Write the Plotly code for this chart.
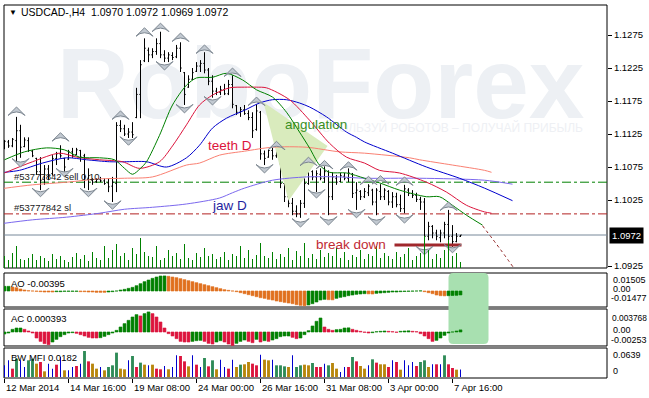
import plotly.graph_objects as go

# ---------------- data ----------------
bar_index = list(range(115))
opens = [1.1105,1.1113,1.1107,1.1115,1.1130,1.1106,1.1115,1.1099,1.1088,1.1068,
         1.1056,1.1072,1.1065,1.1088,1.1095,1.1088,1.1087,1.1098,1.1094,1.1100,
         1.1092,1.1058,1.1055,1.1053,1.1056,1.1054,1.1051,1.1046,1.1050,1.1138,
         1.1133,1.1125,1.1128,1.1150,1.1185,1.1236,1.1252,1.1245,1.1250,1.1262,
         1.1245,1.1240,1.1244,1.1242,1.1255,1.1218,1.1196,1.1208,1.1220,1.1228,
         1.1232,1.1222,1.1205,1.1190,1.1188,1.1192,1.1186,1.1200,1.1168,1.1158,
         1.1162,1.1156,1.1150,1.1132,1.1158,1.1095,1.1090,1.1100,1.1092,1.1080,
         1.1050,1.1030,1.1020,1.1008,1.1004,1.1020,1.1050,1.1068,1.1060,1.1064,
         1.1058,1.1068,1.1030,1.1058,1.1053,1.1061,1.1058,1.1064,1.1036,1.1038,
         1.1030,1.1036,1.1040,1.1022,1.1038,1.1030,1.1038,1.1022,1.1030,1.1018,
         1.1012,1.1040,1.1035,1.1032,1.1026,1.1022,1.0970,1.0985,1.0975,1.0968,
         1.0975,1.0988,1.0970,1.0962,1.0970]
highs = [1.1116,1.1116,1.1119,1.1151,1.1139,1.1120,1.1120,1.1101,1.1089,1.1090,
         1.1078,1.1078,1.1093,1.1098,1.1108,1.1089,1.1101,1.1104,1.1104,1.1101,
         1.1095,1.1073,1.1058,1.1058,1.1060,1.1058,1.1058,1.1060,1.1143,1.1146,
         1.1139,1.1134,1.1143,1.1195,1.1237,1.1270,1.1256,1.1255,1.1270,1.1280,
         1.1252,1.1249,1.1249,1.1260,1.1264,1.1219,1.1214,1.1225,1.1234,1.1237,
         1.1249,1.1225,1.1214,1.1195,1.1198,1.1201,1.1207,1.1214,1.1169,1.1166,
         1.1169,1.1161,1.1158,1.1170,1.1160,1.1100,1.1102,1.1104,1.1110,1.1082,
         1.1058,1.1033,1.1028,1.1017,1.1025,1.1058,1.1078,1.1070,1.1070,1.1073,
         1.1076,1.1070,1.1067,1.1063,1.1066,1.1066,1.1073,1.1066,1.1052,1.1040,
         1.1043,1.1049,1.1042,1.1043,1.1049,1.1043,1.1040,1.1037,1.1036,1.1033,
         1.1048,1.1043,1.1040,1.1036,1.1030,1.1028,1.0992,1.0987,1.0980,1.0980,
         1.0992,1.1010,1.0987,1.0975,1.0972]
lows = [1.1102,1.1104,1.1105,1.1083,1.1089,1.1105,1.1098,1.1090,1.1063,1.1040,
        1.1048,1.1055,1.1062,1.1078,1.1089,1.1068,1.1086,1.1089,1.1093,1.1083,
        1.1043,1.1040,1.1048,1.1051,1.1052,1.1048,1.1037,1.1022,1.1037,1.1128,
        1.1122,1.1119,1.1119,1.1149,1.1149,1.1234,1.1234,1.1240,1.1245,1.1240,
        1.1234,1.1234,1.1237,1.1240,1.1219,1.1169,1.1195,1.1207,1.1219,1.1219,
        1.1217,1.1199,1.1180,1.1184,1.1184,1.1184,1.1184,1.1164,1.1154,1.1151,
        1.1154,1.1146,1.1119,1.1130,1.1086,1.1078,1.1089,1.1086,1.1089,1.1043,
        1.1022,1.1014,1.1002,1.0999,1.0998,1.1013,1.1048,1.1055,1.1037,1.1055,
        1.1051,1.1002,1.1025,1.1048,1.1052,1.1055,1.1052,1.1028,1.1010,1.1025,
        1.1028,1.1031,1.1017,1.1002,1.1025,1.1025,1.1017,1.1013,1.1014,1.1007,
        1.1005,1.1031,1.1028,1.1022,1.1010,1.0954,1.0964,1.0967,1.0964,1.0961,
        1.0967,1.0964,1.0954,1.0961,1.0969]
closes = [1.1114,1.1107,1.1117,1.1130,1.1105,1.1116,1.1100,1.1092,1.1068,1.1055,
          1.1072,1.1062,1.1088,1.1095,1.1092,1.1075,1.1098,1.1092,1.1101,1.1090,
          1.1060,1.1062,1.1052,1.1056,1.1054,1.1050,1.1045,1.1052,1.1138,1.1133,
          1.1125,1.1128,1.1124,1.1185,1.1230,1.1255,1.1245,1.1250,1.1262,1.1245,
          1.1240,1.1245,1.1241,1.1255,1.1225,1.1185,1.1208,1.1218,1.1228,1.1232,
          1.1222,1.1205,1.1190,1.1188,1.1192,1.1186,1.1200,1.1170,1.1158,1.1162,
          1.1156,1.1150,1.1130,1.1160,1.1095,1.1088,1.1100,1.1092,1.1098,1.1050,
          1.1030,1.1020,1.1008,1.1004,1.1020,1.1050,1.1070,1.1060,1.1065,1.1058,
          1.1068,1.1030,1.1060,1.1052,1.1062,1.1058,1.1066,1.1035,1.1040,1.1030,
          1.1038,1.1046,1.1022,1.1040,1.1030,1.1040,1.1022,1.1030,1.1018,1.1012,
          1.1042,1.1035,1.1032,1.1026,1.1022,1.0970,1.0985,1.0975,1.0970,1.0975,
          1.0988,1.0970,1.0962,1.0970,1.0972]
tick_volume = [1200,800,1500,2200,900,800,1000,1400,800,1200,
               1000,700,1400,900,1200,800,600,1100,1500,900,
               1300,700,1600,1000,800,2200,1000,1800,2400,1200,
               1500,800,2000,1400,3000,1600,1200,1100,2200,800,
               1000,1800,1200,1500,900,2400,1000,800,1500,1100,
               2000,1200,1400,900,1100,1600,800,1400,1200,2200,
               1000,1800,900,1300,2500,1200,1000,1600,900,1400,
               1100,2000,800,1700,1200,2500,1000,1400,900,1800,
               1100,1500,1200,2000,1000,1600,800,1300,1100,1800,
               900,1400,1200,2200,1000,1500,1200,900,1600,1100,
               1400,2000,800,1200,1500,3200,1800,900,1400,1000,
               1800,2800,1200,1500,600]
ao_values = [0.00467,0.00467,0.0040,0.00333,0.0020,0.0010,0.00033,0.0,-0.00033,-0.00067,
             -0.0010,-0.0010,-0.0010,-0.00067,-0.00067,-0.00033,-0.00033,-0.00033,-0.00033,-0.00067,
             -0.00067,-0.0010,-0.0010,-0.00133,-0.00133,-0.00133,-0.0010,-0.00067,0.0,0.0010,
             0.00167,0.00267,0.00367,0.00533,0.00733,0.00933,0.0110,0.01267,0.0140,0.0150,
             0.01505,0.01467,0.0140,0.01333,0.01233,0.01133,0.01033,0.00933,0.00833,0.00733,
             0.00633,0.00533,0.00433,0.00333,0.00233,0.00133,0.00067,0.0,-0.00067,-0.00167,
             -0.00267,-0.00367,-0.00467,-0.00567,-0.00667,-0.00733,-0.00833,-0.0090,-0.0100,-0.01067,
             -0.01133,-0.0120,-0.01267,-0.01367,-0.01433,-0.01477,-0.0140,-0.01267,-0.0110,-0.0090,
             -0.00833,-0.00867,-0.00883,-0.00733,-0.00633,-0.00567,-0.00467,-0.0040,-0.00333,-0.0030,
             -0.00267,-0.00283,-0.0030,-0.00233,-0.0020,-0.00167,-0.00133,-0.0010,-0.0010,-0.00067,
             -0.0005,-0.00033,-0.00017,0.0,0.00017,-0.00067,-0.00167,-0.00267,-0.0040,-0.00467,
             -0.00483,-0.00467,-0.0045,-0.00433,-0.00395]
ac_values = [-0.00038,-0.00019,0.00050,0.00075,0.00075,0.00050,0.00019,-0.00019,-0.00113,-0.00176,
             -0.00219,-0.00238,-0.00188,-0.00138,-0.00088,-0.00050,-0.00019,-0.00013,-0.00025,-0.00050,
             -0.00075,-0.00100,-0.00113,-0.00113,-0.00107,-0.00082,-0.00050,-0.00019,0.00031,0.00094,
             0.00157,0.00219,0.00282,0.00326,0.00301,0.00345,0.003768,0.00345,0.00282,0.00188,
             0.00075,-0.00031,-0.00075,-0.00125,-0.00176,-0.00188,-0.00188,-0.00176,-0.00163,-0.00157,
             -0.00176,-0.00213,-0.00226,-0.00188,-0.00163,-0.00188,-0.00226,-0.00253,-0.00213,-0.00176,
             -0.00150,-0.00176,-0.00201,-0.00138,-0.00188,-0.00163,-0.00176,-0.00150,-0.00125,-0.00088,
             -0.00075,-0.00075,-0.00100,-0.00125,-0.00113,-0.00050,0.00025,0.00113,0.00201,0.00263,
             0.00094,0.00050,0.00031,0.00044,0.00050,0.00075,0.00078,0.00050,0.00031,0.00013,
             -0.00006,-0.00019,-0.00013,0.00006,0.00013,0.00019,0.00013,0.00006,-0.00006,0.00013,
             0.00019,0.00022,0.00013,0.00006,-0.00031,-0.00075,-0.00125,-0.00176,-0.00157,-0.00113,
             -0.00063,-0.00019,0.0,0.00019,0.000393]
mfi_values = [0.0287,0.0410,0.0205,0.0451,0.0410,0.0246,0.0410,0.0451,0.0328,0.0369,
              0.0139,0.0328,0.0205,0.0303,0.0492,0.0164,0.0164,0.0246,0.0271,0.0328,
              0.0639,0.0385,0.0328,0.0205,0.0246,0.0164,0.0246,0.0287,0.0599,0.0205,
              0.0189,0.0410,0.0517,0.0246,0.0353,0.0303,0.0287,0.0303,0.0205,0.0189,
              0.0271,0.0189,0.0246,0.0533,0.0517,0.0385,0.0262,0.0533,0.0303,0.0246,
              0.0467,0.0262,0.0410,0.0189,0.0426,0.0246,0.0205,0.0426,0.0246,0.0303,
              0.0312,0.0369,0.0328,0.0287,0.0549,0.0426,0.0410,0.0426,0.0287,0.0287,
              0.0262,0.0246,0.0533,0.0246,0.0287,0.0303,0.0287,0.0344,0.0246,0.0246,
              0.0328,0.0287,0.0344,0.0205,0.0123,0.0246,0.0246,0.0492,0.0385,0.0271,
              0.0205,0.0287,0.0435,0.0353,0.0312,0.0312,0.0246,0.0410,0.0369,0.0180,
              0.0410,0.0287,0.0369,0.0271,0.0369,0.0410,0.0246,0.0312,0.0312,0.0312,
              0.0533,0.0312,0.0221,0.0180,0.0182]
mfi_codes = ("bbrgbbggyr" "ybbrbybbrb" "gryybygggy" "ybgrgybyrr" "bybbrrybrb"
             "grgybbrbyg" "yyrrbyybgg" "gybggyygrr" "bgyybbrgry" "ybgryyrbry"
             "bbbrggybrb" "grryb")

frac_up_idx = [3, 14, 29, 35, 39, 44, 50, 57, 63, 68, 76, 80, 86, 91, 94, 100, 111]
frac_up_price = [1.1166, 1.1127, 1.1160, 1.1286, 1.1293, 1.1278, 1.1260, 1.1225, 1.1181,
                 1.1114, 1.1090, 1.1085, 1.1083, 1.1061, 1.1062, 1.1060, 1.1022]
frac_dn_idx = [4, 9, 15, 21, 27, 31, 40, 45, 52, 65, 74, 78, 81, 88, 93, 100, 105, 112]
frac_dn_price = [1.1075, 1.1030, 1.1060, 1.1030, 1.1011, 1.1108, 1.1222, 1.1157, 1.1169,
                 1.1066, 1.0984, 1.1028, 1.0987, 1.0998, 1.0987, 1.0990, 1.0942, 1.0945]

lips_x = [0,5,10.5,15,18.75,23.75,27.5,30,32,34,35.5,38.75,42,45.5,48,52,55.5,59.5,63,67,
          70.5,73.75,76.25,78.75,81.25,85.5,90,93.75,98.75,105.5,108.75,112,115.5,119.5]
lips_y = [1.1086,1.1098,1.1104,1.1101,1.1090,1.1089,1.1086,1.1073,1.1064,1.1073,1.1083,1.1123,
          1.1169,1.1199,1.1210,1.1211,1.1217,1.1207,1.1192,1.1181,1.1158,1.1128,1.1104,1.1078,
          1.1067,1.1066,1.1058,1.1051,1.1040,1.1030,1.1030,1.1017,1.1002,1.0987]
teeth_x = [0,7,13.75,18,23.75,29.5,33.75,38.75,42,45.5,48.75,52,56.25,60,63,65.5,71.25,76.25,
           81.25,85.5,90,93.75,98.75,105.5,110.5,115.5,120,121.75]
teeth_y = [1.1066,1.1083,1.1096,1.1090,1.1086,1.1083,1.1073,1.1083,1.1107,1.1139,1.1169,1.1184,
           1.1195,1.1196,1.1196,1.1195,1.1177,1.1146,1.1111,1.1090,1.1081,1.1070,1.1066,1.1052,
           1.1037,1.1017,1.1007,1.1005]
jaw_x = [0,3.75,9.5,15.5,20.5,26.25,30,35.5,40.5,45.5,48.75,52,55.5,60,63.75,67,70.5,73.75,
         76.25,80.5,85.5,88,90,97,105.5,113.75,120,127]
jaw_y = [1.1067,1.1070,1.1081,1.1089,1.1086,1.1083,1.1083,1.1083,1.1075,1.1089,1.1108,1.1134,
         1.1149,1.1161,1.1172,1.1177,1.1177,1.1172,1.1166,1.1151,1.1128,1.1120,1.1113,1.1096,
         1.1075,1.1058,1.1043,1.1024]
teethD_x = [-1,7,15.5,23.75,30,37,45.5,48.75,53.75,60,67,75.5,83.75,90,101.25,103.75,112,120,121.75]
teethD_y = [1.1042,1.1048,1.1052,1.1057,1.1058,1.1060,1.1078,1.1081,1.1093,1.1099,1.1105,1.1105,
            1.1098,1.1096,1.1089,1.1086,1.1078,1.1070,1.1067]
jawD_x = [-1,7,15.5,23.75,30,37,45.5,53.75,57,60,67,75.5,83.75,90,103.75,120,127]
jawD_y = [1.0989,1.0995,1.0999,1.1005,1.1011,1.1014,1.1019,1.1028,1.1036,1.1043,1.1055,1.1060,
          1.1060,1.1058,1.1058,1.1055,1.1049]
lipsD_x = [119.5, 124, 128.5]
lipsD_y = [1.0986, 1.0950, 1.0912]

angulation_x = [64.75, 80.75, 71, 64.75]
angulation_y = [1.1173, 1.1107, 1.1024, 1.1173]
breakdown_x = [97.5, 114.25]
breakdown_y = [1.0957, 1.0957]

order_price = 1.1052
sl_price = 1.1004
bid_price = 1.0972
price_ticks = [1.0925, 1.1025, 1.1075, 1.1125, 1.1175, 1.1225, 1.1275]
date_tick_index = [0, 16, 32, 48, 64, 80, 96, 112]
date_tick_labels = ["12 Mar 2014", "14 Mar 16:00", "19 Mar 08:00", "24 Mar 00:00",
                    "26 Mar 16:00", "31 Mar 08:00", "3 Apr 00:00", "7 Apr 16:00"]

# ---------------- helpers ----------------
def trend_colors(vals, up, down):
    cols, prev, last = [], None, up
    for v in vals:
        if prev is not None:
            if v > prev:
                last = up
            elif v < prev:
                last = down
        cols.append(last)
        prev = v
    return cols

FONT = "Liberation Sans, Arial, DejaVu Sans, sans-serif"
XR = [-0.125, 150.625]
D_MAIN = [0.2949, 1.0]
D_AO = [0.1903, 0.2815]
D_AC = [0.0858, 0.1850]
D_MFI = [0.0, 0.0804]

fig = go.Figure()

# angulation zone
fig.add_trace(go.Scatter(x=angulation_x, y=angulation_y, fill="toself", mode="lines",
                         line=dict(width=0), fillcolor="#d9ebbd", xaxis="x", yaxis="y",
                         hoverinfo="skip"))

# alligator lines
def add_line(xs, ys, color, dash="solid"):
    fig.add_trace(go.Scatter(x=xs, y=ys, mode="lines", xaxis="x", yaxis="y",
                             line=dict(color=color, width=1, shape="spline", smoothing=0.8, dash=dash),
                             hoverinfo="skip"))

add_line(jawD_x, jawD_y, "#7b68ee")
add_line(teethD_x, teethD_y, "#fa8072")
add_line(jaw_x, jaw_y, "#0000cd")
add_line(teeth_x, teeth_y, "#dc143c")
add_line(lips_x, lips_y, "#008000")
add_line(lipsD_x, lipsD_y, "#8b1a1a", dash="dot")

# price bars
fig.add_trace(go.Ohlc(x=bar_index, open=opens, high=highs, low=lows, close=closes,
                      increasing=dict(line=dict(color="black", width=1)),
                      decreasing=dict(line=dict(color="black", width=1)),
                      tickwidth=0.3, xaxis="x", yaxis="y", hoverinfo="skip"))

# break down line
fig.add_trace(go.Scatter(x=breakdown_x, y=breakdown_y, mode="lines", xaxis="x", yaxis="y",
                         line=dict(color="#a0282d", width=3), hoverinfo="skip"))

# fractals
fig.add_trace(go.Scatter(x=frac_up_idx, y=frac_up_price, mode="markers", xaxis="x", yaxis="y",
                         marker=dict(symbol="arrow-wide", size=12, color="#c2c9d1",
                                     line=dict(color="#7c8690", width=1)), hoverinfo="skip"))
fig.add_trace(go.Scatter(x=frac_dn_idx, y=frac_dn_price, mode="markers", xaxis="x", yaxis="y",
                         marker=dict(symbol="arrow-wide", angle=180, size=12, color="#c2c9d1",
                                     line=dict(color="#7c8690", width=1)), hoverinfo="skip"))

# tick volume
fig.add_trace(go.Bar(x=bar_index, y=tick_volume, width=0.25, marker=dict(color="#008000", line=dict(width=0)),
                     xaxis="x", yaxis="y5", hoverinfo="skip"))

# AO
ao_cols = trend_colors(ao_values, "#008000", "#e0701e")
fig.add_trace(go.Bar(x=bar_index, y=ao_values, width=0.72,
                     marker=dict(color=ao_cols, line=dict(color=ao_cols, width=0.6)),
                     xaxis="x2", yaxis="y2", hoverinfo="skip"))
# AC
ac_cols = trend_colors(ac_values, "#008000", "#dc143c")
fig.add_trace(go.Bar(x=bar_index, y=ac_values, width=0.72,
                     marker=dict(color=ac_cols, line=dict(color=ac_cols, width=0.6)),
                     xaxis="x3", yaxis="y3", hoverinfo="skip"))
# BW MFI
mfi_map = {"g": "#2e8b57", "r": "#dc143c", "y": "#b8860b", "b": "#0000cd"}
wide = [(i, v, mfi_map[c]) for i, v, c in zip(bar_index, mfi_values, mfi_codes) if c != "b"]
thin = [(i, v) for i, v, c in zip(bar_index, mfi_values, mfi_codes) if c == "b"]
fig.add_trace(go.Bar(x=[w[0] for w in wide], y=[w[1] for w in wide], width=0.72,
                     marker=dict(color=[w[2] for w in wide], line=dict(width=0)),
                     xaxis="x4", yaxis="y4", hoverinfo="skip"))
fig.add_trace(go.Bar(x=[t[0] for t in thin], y=[t[1] for t in thin], width=0.25,
                     marker=dict(color="#0000cd", line=dict(width=0)),
                     xaxis="x4", yaxis="y4", hoverinfo="skip"))

# ---------------- layout ----------------
common_x = dict(range=XR, showgrid=False, zeroline=False, showticklabels=False,
                showline=False, ticks="")
common_y = dict(showgrid=False, zeroline=False, showline=False, visible=False)

shapes = []
# watermark
shapes.append(dict(type="rect", xref="paper", yref="paper", x0=0.05, x1=1.0, y0=0.74, y1=0.89,
                   line=dict(width=0), fillcolor="rgba(0,0,0,0)", layer="below",
                   label=dict(text="RoboForex", textposition="middle center",
                              font=dict(size=100, color="#edf0f4", family=FONT, weight="bold"))))
shapes.append(dict(type="rect", xref="paper", yref="paper", x0=0.40, x1=0.965, y0=0.655, y1=0.69,
                   line=dict(width=0), fillcolor="rgba(0,0,0,0)", layer="below",
                   label=dict(text="ИСПОЛЬЗУЙ РОБОТОВ – ПОЛУЧАЙ ПРИБЫЛЬ", textposition="middle right",
                              padding=0, font=dict(size=12, color="#eef0f4", family=FONT))))
# pane borders
for d in (D_MAIN, D_AO, D_AC, D_MFI):
    shapes.append(dict(type="rect", xref="paper", yref="paper", x0=0, x1=1, y0=d[0], y1=d[1],
                       line=dict(color="black", width=1), fillcolor="rgba(0,0,0,0)", layer="below"))
# order / stop / bid lines
shapes.append(dict(type="line", xref="paper", yref="y", x0=0, x1=1, y0=order_price, y1=order_price,
                   line=dict(color="#008000", width=1, dash="dashdot"), layer="below"))
shapes.append(dict(type="line", xref="paper", yref="y", x0=0, x1=1, y0=sl_price, y1=sl_price,
                   line=dict(color="#b22222", width=1, dash="dashdot"), layer="below"))
shapes.append(dict(type="line", xref="paper", yref="y", x0=0, x1=1, y0=bid_price, y1=bid_price,
                   line=dict(color="#778899", width=1), layer="below"))
# green highlight box over AO / AC
bx0, bx1, by0, by1, rx, ry = 111, 121, 0.0912, 0.2815, 1.2, 0.013
path = (f"M {bx0+rx},{by0} L {bx1-rx},{by0} Q {bx1},{by0} {bx1},{by0+ry} "
        f"L {bx1},{by1-ry} Q {bx1},{by1} {bx1-rx},{by1} L {bx0+rx},{by1} "
        f"Q {bx0},{by1} {bx0},{by1-ry} L {bx0},{by0+ry} Q {bx0},{by0} {bx0+rx},{by0} Z")
shapes.append(dict(type="path", xref="x", yref="paper", path=path, fillcolor="#a8e0b0",
                   line=dict(width=0), layer="below"))

def pa(px):
    return (px - 4) / 603

def pb(py):
    return (378 - py) / 373

ann = []
def txt(text, x, y, xref="paper", yref="paper", xanchor="left", size=9.5, color="black", **kw):
    ann.append(dict(text=text, x=x, y=y, xref=xref, yref=yref, xanchor=xanchor, yanchor="middle",
                    showarrow=False, font=dict(size=size, color=color, family=FONT), **kw))

txt("▼", pa(7), pb(12), size=8)
txt("USDCAD-,H4  1.0970 1.0972 1.0969 1.0972", pa(19), pb(12), size=10.5)
txt("AO -0.00395", pa(9), pb(283))
txt("AC 0.000393", pa(9), pb(318))
txt("BW MFI 0.0182", pa(9), pb(357))
for t, px_x, px_y, sz in [("0.01505", 611, 280, 9), ("0.00", 611, 289, 9), ("-0.01477", 609, 298, 9),
                          ("0.003768", 610, 318, 8.4), ("0.00", 611, 330, 9), ("-0.00253", 609, 340, 9),
                          ("0.0639", 611, 355, 9), ("0", 611, 371, 9)]:
    txt(t, pa(px_x), pb(px_y), size=sz)
for i, lab in zip(date_tick_index, date_tick_labels):
    txt(lab, i, -0.0268, xref="x4", xshift=-1)
# price box
ann.append(dict(text=f"{bid_price:.4f}", x=1.004, y=bid_price, xref="paper", yref="y",
                xanchor="left", yanchor="middle", showarrow=False, bgcolor="black", borderpad=2,
                font=dict(size=9.5, color="white", family=FONT)))
# chart labels
txt("#53777842 sell 0.10", 1.75, 1.1061, xref="x", yref="y", color="#1a1a1a")
txt("#53777842 sl", 1.75, 1.1014, xref="x", yref="y", color="#1a1a1a")
txt("teeth D", 50.25, 1.1107, xref="x", yref="y", size=13.5, color="#dc143c")
txt("jaw D", 51.25, 1.1017, xref="x", yref="y", size=13.5, color="#1f1fa0")
txt("angulation", 69.5, 1.1139, xref="x", yref="y", size=13.5, color="#3a8f1f")
txt("break down", 95.75, 1.0958, xref="x", yref="y", xanchor="right", size=13.5, color="#bf2a33")

fig.update_layout(
    width=649, height=398, margin=dict(l=4, r=42, t=5, b=20),
    paper_bgcolor="white", plot_bgcolor="white", showlegend=False, barmode="overlay",
    font=dict(family=FONT, size=9.5, color="black"),
    xaxis=dict(common_x, anchor="y", domain=[0, 1], rangeslider=dict(visible=False)),
    xaxis2=dict(common_x, anchor="y2", matches="x", domain=[0, 1]),
    xaxis3=dict(common_x, anchor="y3", matches="x", domain=[0, 1]),
    xaxis4=dict(common_x, anchor="y4", matches="x", domain=[0, 1], ticks="outside", ticklen=4,
                tickcolor="black", tickvals=date_tick_index),
    yaxis=dict(domain=D_MAIN, range=[1.0922, 1.13205], side="right", anchor="x", showgrid=False,
               zeroline=False, showline=False, ticks="outside", ticklen=4, tickcolor="black",
               tickvals=price_ticks, ticktext=[f"{v:.4f}" for v in price_ticks],
               tickfont=dict(size=9.5, color="black", family=FONT)),
    yaxis5=dict(common_y, overlaying="y", anchor="x", range=[0, 26300]),
    yaxis2=dict(common_y, domain=D_AO, anchor="x2", range=[-0.016, 0.018]),
    yaxis3=dict(common_y, domain=D_AC, anchor="x3", range=[-0.00263, 0.00432]),
    yaxis4=dict(common_y, domain=D_MFI, anchor="x4", range=[-0.0025, 0.0713]),
    shapes=shapes, annotations=ann,
)

fig.write_html("out.html")
